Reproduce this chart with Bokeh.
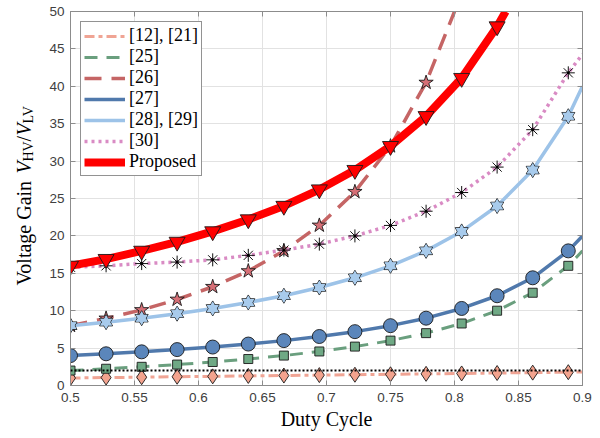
import math
from bokeh.plotting import figure
from bokeh.layouts import row
from bokeh.models import (Legend, LegendItem, LinearAxis, FixedTicker,
                          Range1d, Span, CustomJSTickFormatter)
from bokeh.core.properties import value
from bokeh.embed import file_html
from bokeh.resources import INLINE

# ---------------- data ----------------
duty = [0.5, 0.5278, 0.5556, 0.5833, 0.6111, 0.6389, 0.6667, 0.6944,
        0.7222, 0.75, 0.7778, 0.8056, 0.8333, 0.8611, 0.8889]

gain_12_21 = [1.0, 1.06, 1.11, 1.17, 1.22, 1.28, 1.33, 1.39, 1.44, 1.5,
              1.56, 1.61, 1.67, 1.72, 1.78]
gain_25 = [2.0, 2.24, 2.5, 2.8, 3.14, 3.54, 4.0, 4.55, 5.2, 6.0, 7.0, 8.29,
           10.0, 12.4, 16.0]
gain_26 = [8.0, 8.97, 10.1, 11.5, 13.2, 15.3, 18.0, 21.4, 25.9, 32.0, 40.5]
gain_27 = [4.0, 4.24, 4.5, 4.8, 5.14, 5.54, 6.0, 6.55, 7.2, 8.0, 9.0, 10.3,
           12.0, 14.4, 18.0]
gain_28_29 = [8.0, 8.47, 9.0, 9.6, 10.3, 11.1, 12.0, 13.1, 14.4, 16.0, 18.0,
              20.6, 24.0, 28.8, 36.0]
gain_30 = [15.8, 16.0, 16.3, 16.5, 16.8, 17.4, 18.1, 18.9, 20.0, 21.4, 23.3,
           25.8, 29.2, 34.2, 41.8]
gain_proposed = [16.0, 16.9, 18.0, 19.2, 20.6, 22.2, 24.0, 26.2, 28.8, 32.0,
                 36.0, 41.1, 48.0]

# curve end points (where each curve leaves the axes)
end_x_right = 0.9
end_12_21 = 1.8
end_25 = 18.0
end_27 = 20.0
end_28_29 = 40.0
end_30 = 44.3
end_26 = (0.8, 50.0)
end_proposed = (0.84, 50.0)

ref_level = 2.0   # black dotted reference line

x_ticks = [0.5, 0.55, 0.6, 0.65, 0.7, 0.75, 0.8, 0.85, 0.9]
x_tick_labels = ["0.5", "0.55", "0.6", "0.65", "0.7", "0.75", "0.8", "0.85", "0.9"]
y_ticks = [0, 5, 10, 15, 20, 25, 30, 35, 40, 45, 50]
y_tick_labels = ["0", "5", "10", "15", "20", "25", "30", "35", "40", "45", "50"]

legend_labels = ["[12], [21]", "[25]", "[26]", "[27]", "[28], [29]", "[30]", "Proposed"]

# y-axis title pieces
ylabel_texts = ["Voltage Gain ", "V", "HV", "/", "V", "LV"]

# ---------------- layout geometry ----------------
W, H = 600, 438
LEFT_W = 46                       # strip holding the y-axis title
FRAME_LEFT, FRAME_RIGHT, FRAME_TOP, FRAME_BOTTOM = 70, 582, 11, 385

GRAY = "#8c8c8c"
TICK_COL = "#404040"

p = figure(width=W - LEFT_W, height=H, x_range=Range1d(0.5, 0.9), y_range=Range1d(0, 50),
           output_backend="svg", toolbar_location=None,
           min_border_left=FRAME_LEFT - LEFT_W, min_border_right=W - FRAME_RIGHT,
           min_border_top=FRAME_TOP, min_border_bottom=H - FRAME_BOTTOM)
p.outline_line_color = GRAY
p.outline_line_width = 1
p.background_fill_color = "white"
p.border_fill_color = "white"

xax = p.below[0]
yax = p.left[0]
fmt = CustomJSTickFormatter(code="return String(Math.round(tick*100)/100);")
for ax, ticks, labels in ((xax, x_ticks, x_tick_labels), (yax, y_ticks, y_tick_labels)):
    ax.ticker = FixedTicker(ticks=ticks)
    ax.formatter = fmt
    ax.major_label_overrides = {t: l for t, l in zip(ticks, labels)}
    ax.major_tick_in = 5
    ax.major_tick_out = 0
    ax.minor_tick_line_color = None
    ax.axis_line_color = GRAY
    ax.major_tick_line_color = GRAY
    ax.major_label_text_font = "Liberation Sans"
    ax.major_label_text_font_size = "13.5px"
    ax.major_label_text_color = TICK_COL

xax.major_label_standoff = 7
xax.axis_label = "Duty Cycle"
xax.axis_label_text_font = "Liberation Serif"
xax.axis_label_text_font_size = "20px"
xax.axis_label_text_font_style = "normal"
xax.axis_label_text_color = "black"
xax.axis_label_standoff = 3
yax.major_label_standoff = 6

p.xgrid.ticker = FixedTicker(ticks=x_ticks)
p.ygrid.ticker = FixedTicker(ticks=y_ticks)
p.grid.grid_line_color = "#e2e2e2"
p.grid.grid_line_width = 1

for loc, ticks in (("above", x_ticks), ("right", y_ticks)):
    ax = LinearAxis(ticker=FixedTicker(ticks=ticks),
                    formatter=CustomJSTickFormatter(code="return '';"),
                    major_label_text_font_size="0px", major_label_standoff=0,
                    major_tick_in=5, major_tick_out=0,
                    minor_tick_line_color=None,
                    axis_line_color=GRAY, major_tick_line_color=GRAY)
    p.add_layout(ax, loc)

# ---------------- series ----------------
def line_xy(vals, end):
    n = len(vals)
    if isinstance(end, tuple):
        return duty[:n] + [end[0]], vals + [end[1]]
    return duty[:n] + [end_x_right], vals + [end]

OUT = "#1a1a1a"

# [12], [21]
lx, ly = line_xy(gain_12_21, end_12_21)
r1 = p.line(lx, ly, line_color="#F0A494", line_width=3, line_dash="10 4 4 4")
p.scatter(duty, gain_12_21, marker="diamond", size=15, fill_color="#F3A38E",
          line_color=OUT, line_width=0.9)

# [25]
lx, ly = line_xy(gain_25, end_25)
r2 = p.line(lx, ly, line_color="#6A9F7E", line_width=3, line_dash="13 9")
p.scatter(duty, gain_25, marker="square", size=9, fill_color="#6FA985",
          line_color=OUT, line_width=0.9)

# [26]
lx, ly = line_xy(gain_26, end_26)
r3 = p.line(lx, ly, line_color="#C56565", line_width=3.5, line_dash="17 10")
p.scatter(duty[:len(gain_26)], gain_26, marker="star", size=15, fill_color="#D66F76",
          line_color=OUT, line_width=0.9)

# [27]
lx, ly = line_xy(gain_27, end_27)
r4 = p.line(lx, ly, line_color="#5079AC", line_width=3.5)
p.scatter(duty, gain_27, marker="circle", size=14, fill_color="#5B86BB",
          line_color=OUT, line_width=0.9)

# [28], [29]
lx, ly = line_xy(gain_28_29, end_28_29)
r5 = p.line(lx, ly, line_color="#9DC3E8", line_width=3.5)
for mk in ("triangle", "inverted_triangle"):
    p.scatter(duty, gain_28_29, marker=mk, size=13, fill_color="#A8CBEC",
              line_color=OUT, line_width=0.9)
for mk in ("triangle", "inverted_triangle"):
    p.scatter(duty, gain_28_29, marker=mk, size=12, fill_color="#A8CBEC",
              line_color=None)

# [30]
lx, ly = line_xy(gain_30, end_30)
r6 = p.line(lx, ly, line_color="#D98BC4", line_width=3.5, line_dash="3 4")
p.scatter(duty, gain_30, marker="asterisk", size=13, line_color="#111111", line_width=1)
p.scatter(duty, gain_30, marker="circle", size=3, fill_color="black", line_color=None)

# reference dotted line
p.add_layout(Span(location=ref_level, dimension="width", line_color="black",
                  line_width=2, line_dash="2 2"))

# Proposed
lx, ly = line_xy(gain_proposed, end_proposed)
r7 = p.line(lx, ly, line_color="#FF0000", line_width=8)
p.scatter(duty[:len(gain_proposed)], gain_proposed, marker="inverted_triangle", size=16,
          fill_color="#FF0000", line_color=OUT, line_width=0.9)

# ---------------- legend ----------------
items = [LegendItem(label=lab, renderers=[r]) for lab, r in
         zip(legend_labels, [r1, r2, r3, r4, r5, r6, r7])]
legend = Legend(items=items, location="top_left", margin=10, padding=3, spacing=0,
                glyph_width=41, glyph_height=18, label_height=18, label_standoff=4,
                label_text_font="Liberation Serif", label_text_font_size="18px",
                label_text_color="black",
                border_line_color="#262626", border_line_width=1,
                background_fill_color="white", background_fill_alpha=1.0)
p.add_layout(legend)

# ---------------- y-axis title strip ----------------
# the strip's frame is aligned with the main frame by the row layout, so its
# y range is expressed in (H - page_y) over the main frame's vertical extent
yt = figure(width=LEFT_W, height=H, x_range=Range1d(0, LEFT_W),
            y_range=Range1d(H - FRAME_BOTTOM, H - FRAME_TOP),
            output_backend="svg", toolbar_location=None,
            x_axis_location=None, y_axis_location=None,
            min_border_left=0, min_border_right=0,
            min_border_top=FRAME_TOP, min_border_bottom=H - FRAME_BOTTOM)
yt.grid.visible = False
yt.outline_line_color = None
yt.background_fill_color = "white"
yt.border_fill_color = "white"

# start position (page y, measured downward) and centre x of each piece
piece_start_y = [285, 173, 161, 141, 135, 123]
piece_mid_x = [23, 23, 28, 23, 23, 28]
piece_style = ["normal", "italic", "normal", "normal", "italic", "normal"]
piece_size = ["20px", "20px", "14px", "20px", "20px", "14px"]
for txt, py, mx, st, sz in zip(ylabel_texts, piece_start_y, piece_mid_x, piece_style, piece_size):
    yt.text(x=[mx], y=[H - py], text=[txt], angle=math.pi / 2,
            text_align="left", text_baseline="middle",
            text_font=value("Liberation Serif"), text_font_size=value(sz),
            text_font_style=st, text_color="black")

layout = row(yt, p, spacing=0)
open("out.html", "w").write(file_html(layout, INLINE))
